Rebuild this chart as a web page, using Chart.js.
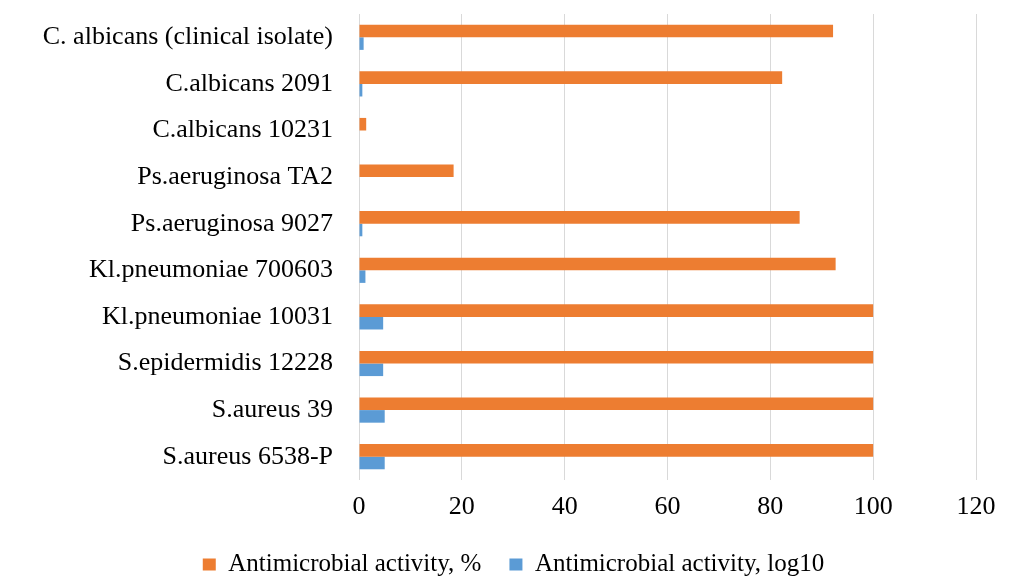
<!DOCTYPE html>
<html>
<head>
<meta charset="utf-8">
<title>Antimicrobial activity</title>
<script src="https://cdn.jsdelivr.net/npm/chart.js@4.4.1/dist/chart.umd.min.js"></script>
<style>
  html, body { margin: 0; padding: 0; background: #fff; overflow: hidden; }
  /* a little taller than the window so the legend row sits as low as in the original */
  #wrap { width: 1011px; height: 587px; position: relative; }
</style>
</head>
<body>
<div id="wrap"><canvas id="chart"></canvas></div>
<script>
// strains, listed top to bottom as they appear in the chart
const strains = [
  'C. albicans (clinical isolate)',
  'C.albicans 2091',
  'C.albicans 10231',
  'Ps.aeruginosa TA2',
  'Ps.aeruginosa 9027',
  'Kl.pneumoniae 700603',
  'Kl.pneumoniae 10031',
  'S.epidermidis 12228',
  'S.aureus 39',
  'S.aureus 6538-P'
];

// values
const activityPct = [92.2, 82.3, 1.4, 18.4, 85.7, 92.7, 100, 100, 100, 100];
const activityLog = [0.9, 0.65, 0, 0, 0.65, 1.25, 4.7, 4.7, 5.0, 5.0];

const seriesNames = ['Antimicrobial activity, %', 'Antimicrobial activity, log10'];
const xTicks = [0, 20, 40, 60, 80, 100, 120];

const textFont = 'Liberation Serif, "Times New Roman", serif';

const ctx = document.getElementById('chart').getContext('2d');
const chart = new Chart(ctx, {
  type: 'bar',
  data: {
    labels: strains,
    datasets: [
      {
        label: seriesNames[0],
        data: activityPct,
        backgroundColor: '#ED7D31',
        borderWidth: 0
      },
      {
        label: seriesNames[1],
        data: activityLog,
        backgroundColor: '#5B9BD5',
        borderWidth: 0
      }
    ]
  },
  options: {
    indexAxis: 'y',
    responsive: true,
    maintainAspectRatio: false,
    animation: false,
    categoryPercentage: 0.54,
    barPercentage: 1,
    layout: {
      padding: { top: 14, right: 0, bottom: 0, left: 16 }
    },
    scales: {
      x: {
        min: xTicks[0],
        max: xTicks[xTicks.length - 1],
        afterBuildTicks: (scale) => {
          scale.ticks = xTicks.map(v => ({ value: v }));
        },
        afterFit: (scale) => {
          scale.height = 44;
          scale.paddingRight = 35; // keeps the plot ending at 120 where the original does
        },
        grid: {
          color: '#d9d9d9',
          lineWidth: 1,
          drawTicks: false
        },
        border: { display: false },
        ticks: {
          padding: 12,
          color: '#000',
          font: { family: textFont, size: 26 }
        }
      },
      y: {
        afterFit: (scale) => {
          scale.width = 343;
          // label padding would otherwise push the plot down
          scale.paddingTop = 0;
          scale.paddingBottom = 0;
        },
        grid: { display: false, drawTicks: false },
        border: { display: false },
        ticks: {
          padding: 26,
          color: '#000',
          font: { family: textFont, size: 26 }
        }
      }
    },
    plugins: {
      legend: {
        position: 'bottom',
        labels: {
          boxWidth: 13,
          boxHeight: 12,
          padding: 28,
          color: '#000',
          font: { family: textFont, size: 25 }
        }
      },
      tooltip: { enabled: false }
    }
  }
});
</script>
</body>
</html>
